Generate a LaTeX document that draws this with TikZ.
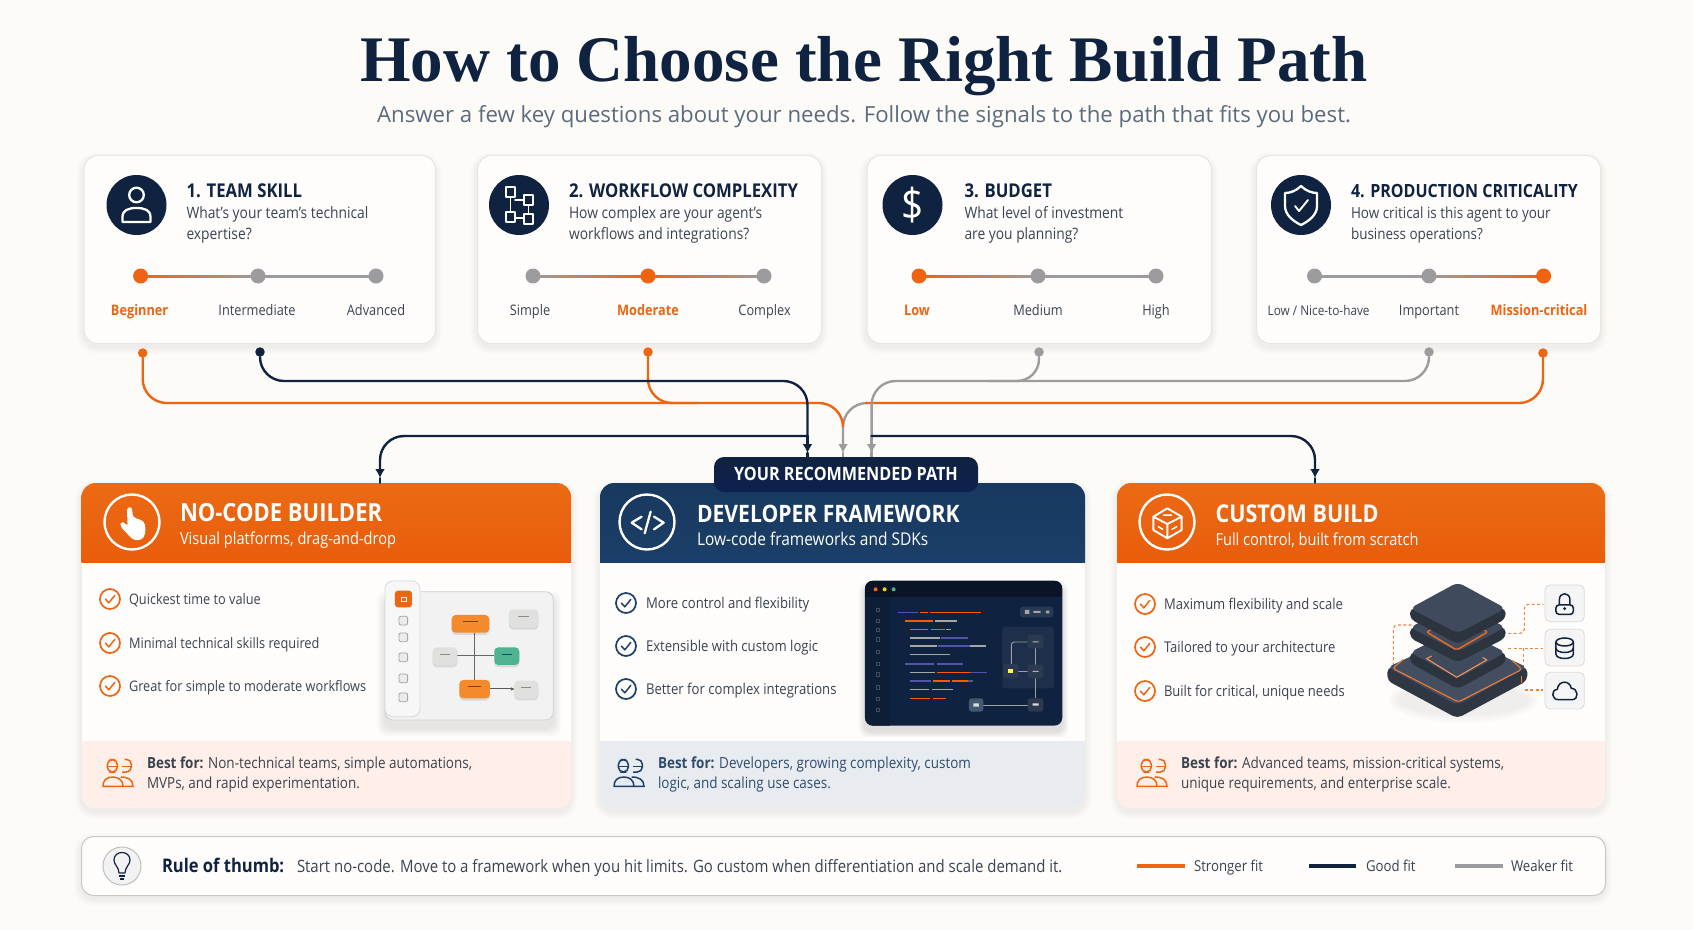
\documentclass[tikz,border=0pt]{standalone}
\usepackage{fontspec}
\setmainfont[FakeStretch=0.88]{Open Sans}
\newfontfamily\plainsans{Open Sans}
\newfontfamily\titlefont{Liberation Serif}
\usetikzlibrary{arrows.meta,calc}
\definecolor{bg}{HTML}{FDFBF8}
\definecolor{navy}{HTML}{0F2340}
\definecolor{hnavy}{HTML}{1B3F69}
\definecolor{orange1}{HTML}{EE6410}
\definecolor{ohead}{HTML}{EC6A14}
\definecolor{ohead2}{HTML}{E85D0C}
\definecolor{greyl}{HTML}{9C9C9E}
\definecolor{bodyt}{HTML}{3A4350}
\definecolor{edge}{HTML}{E9E6E2}
\definecolor{cardw}{HTML}{FFFDFC}
\definecolor{stacka}{HTML}{434F60}
\definecolor{stackb}{HTML}{3F4A5C}
\definecolor{subt}{HTML}{5B6B7D}
\definecolor{mGrey}{HTML}{E0E0DE}
\definecolor{mOr}{HTML}{F58A2C}
\definecolor{mGr}{HTML}{4FB391}
\newcommand\fs[1]{\fontsize{#1}{#1}\selectfont}
\newcommand\softshadow[5]{\foreach \i in {1,...,7}{\fill[black,opacity=0.006,rounded corners=#5+\i]
  (#1-\i,#2-\i+4) rectangle (#3+\i,#4+\i+4);}}
\tikzset{
  txt/.style={inner sep=0pt,outer sep=0pt,anchor=base west},
  ctxt/.style={inner sep=0pt,outer sep=0pt,anchor=base},
  qtitle/.style={txt,text=navy,font=\fs{19}\bfseries},
  qdesc/.style={txt,text=bodyt,font=\fs{15.7}},
  optl/.style={ctxt,text=bodyt,font=\fs{14.5}},
  opton/.style={ctxt,text=orange1,font=\fs{14.5}\bfseries},
  htitle/.style={txt,text=white,font=\fs{24}\bfseries},
  hsub/.style={txt,text=white,font=\fs{16.6}},
  bullet/.style={txt,text=bodyt,font=\fs{14.5}},
  bestf/.style={txt,text=bodyt,font=\fs{15.3}},
  conn/.style={line width=2.4pt,line cap=round},
  dotn/.style={circle,inner sep=0pt,minimum size=9.5pt},
  ico/.style={white,line width=2.3pt,line join=round,line cap=round},
  legendt/.style={txt,text=bodyt,font=\fs{15}},
  hoop/.style={draw=white,line width=2.4pt},
  dash1/.style={orange1!80,line width=1.1pt,dash pattern=on 3pt off 2.4pt,rounded corners=4pt},
}
% question card
\newcommand\qcard[3]{\softshadow{#2}{155}{#3}{343}{14}
  \node[draw=edge,fill=cardw,line width=1pt,rounded corners=14pt,inner sep=0pt,minimum width=#3pt-#2pt,minimum height=188pt,anchor=north west] (#1) at (#2,155) {};}
\newcommand\qhead[6]{% id, icon x, text x, title, l1, l2
  \node[circle,fill=navy,minimum size=60pt,inner sep=0pt] (#1-ic) at (#2,205) {};
  \node[qtitle] (#1-t) at (#3,197) {#4};
  \node[qdesc] (#1-a) at (#3,218) {#5};
  \node[qdesc] (#1-b) at (#3,239.5) {#6};}
\newcommand\sldot[3]{\node[circle,fill=#3,minimum size=15pt,inner sep=0pt] (#1) at (#2,276) {};}
\newcommand\sseg[4]{\shade[left color=#3,right color=#4] (#1,275) rectangle (#2,277);}
\newcommand\chk[3]{\begin{scope}[shift={(#1,#2)}]
  \draw[#3,line width=1.7pt] (0,0) circle (10);
  \draw[#3,line width=1.5pt,line cap=round,line join=round] (-4.5,0.2) -- (-1.2,3.8) -- (4.8,-3.6);
  \end{scope}}
\newcommand\people[3]{\begin{scope}[shift={(#1,#2)},x=0.3333pt,y=-0.3333pt]
  \draw[#3,line width=1.5pt,rounded corners=5pt] (-32,-40) rectangle (-2,-3);
  \draw[#3,line width=1.5pt] (-32,-20) -- (-2,-20) (12,-20) -- (40,-20);
  \draw[#3,line width=1.5pt,rounded corners=5pt] (20,-41) -- (40,-41) -- (40,-3) -- (12,-3);
  \draw[#3,line width=1.5pt,line join=round] (-45,40) -- (15,40) .. controls (15,22) and (2,12) .. (-15,12) .. controls (-35,12) and (-45,22) .. (-45,40) -- cycle;
  \draw[#3,line width=1.5pt] (8,12) .. controls (30,12) and (45,20) .. (45,40) -- (15,40);
  \end{scope}}
\newcommand\mini[6]{\fill[black,opacity=.10,rounded corners=4pt] (#1,#2+5) rectangle (#3,#4+7);
  \fill[#5,rounded corners=4pt] (#1,#2) rectangle (#3,#4);
  \draw[#6,line width=.7pt] ($(#1,#2)!.3!(#3,#2)+(0,20)$) -- ($(#1,#2)!.7!(#3,#2)+(0,20)$);}
\newcommand\codeln[4]{\draw[#4,line width=1.1pt] (#1,#3) -- (#2,#3);}
\newcommand\fnode[5]{\fill[#5,rounded corners=2.5pt] (#1,#2) rectangle (#3,#4);}
\newcommand\slab[7]{% left x, right x, ytop, ymid, ybottom, colour, thickness (zoom coordinates)
  \fill[rounded corners=5pt,fill=#6!70!black] (#1,#4) -- (#1,#4+#7) -- ({(#1+#2)/2},#5+#7) -- (#2,#4+#7) -- (#2,#4) -- cycle;
  \fill[rounded corners=6pt,fill=#6] (#1,#4) -- ({(#1+#2)/2},#3) -- (#2,#4) -- ({(#1+#2)/2},#5) -- cycle;}
\begin{document}
\begin{tikzpicture}[x=1pt,y=-1pt]
\useasboundingbox (0,0) rectangle (1693,929);
\fill[bg] (0,0) rectangle (1693,929);

% title
\node[ctxt,text=navy,font=\titlefont\fs{65}\bfseries] (title) at (864,81) {How to Choose the Right Build Path};
\node[ctxt,text=subt,font=\plainsans\fs{22.2}] (subtitle) at (864,122) {Answer a few key questions about your needs. Follow the signals to the path that fits you best.};

% question cards
\qcard{c1}{83.5}{435}
\qcard{c2}{477}{821}
\qcard{c3}{866.5}{1211}
\qcard{c4}{1256}{1600}
\qhead{c1}{136.5}{186.5}{1. TEAM SKILL}{What's your team's technical}{expertise?}
\qhead{c2}{519}{569}{2. WORKFLOW COMPLEXITY}{How complex are your agent's}{workflows and integrations?}
\qhead{c3}{912.5}{964.5}{3. BUDGET}{What level of investment}{are you planning?}
\qhead{c4}{1301}{1351}{\fs{18.2}4. PRODUCTION CRITICALITY}{\fs{15.3}How critical is this agent to your}{\fs{15.3}business operations?}

% question icons
\begin{scope}[shift={(136.5,205)}]
  \draw[ico] (0,-10) circle (7.3);
  \draw[ico] (-14,17) -- (-14,12) .. controls (-14,5) and (-8,3) .. (0,3) .. controls (8,3) and (14,5) .. (14,12) -- (14,17) -- cycle;
\end{scope}
\begin{scope}[shift={(519,205)}]
  \draw[ico,line width=1.9pt] (-13,-18) rectangle (-4,-8) (5,-10) rectangle (14,0) (-13,7) rectangle (-4,17) (5,9) rectangle (14,19);
  \draw[ico,line width=1.9pt] (-8.5,-8) -- (-8.5,7) (-4,-5) -- (5,-5) (-4,13) -- (5,13) (9.5,0) -- (9.5,9);
\end{scope}
\node[inner sep=0pt,text=white,font=\fs{44}] (c3-dollar) at (912.5,205) {\$};
\begin{scope}[shift={(1301,205)}]
  \draw[ico] (0,-19) .. controls (5,-14) and (11,-12) .. (16,-12) -- (16,1) .. controls (16,10) and (8,16) .. (0,20) .. controls (-8,16) and (-16,10) .. (-16,1) -- (-16,-12) .. controls (-11,-12) and (-5,-14) .. (0,-19) -- cycle;
  \draw[ico,line width=1.9pt] (-6,1) -- (-2,6) -- (7,-5);
\end{scope}

% sliders
\sseg{140.6}{258}{orange1}{greyl}\sseg{258}{376}{greyl}{greyl}
\sseg{533}{648}{greyl}{orange1}\sseg{648}{764}{orange1}{greyl}
\sseg{919}{1038}{orange1}{greyl}\sseg{1038}{1156}{greyl}{greyl}
\sseg{1314.5}{1429}{greyl}{greyl}\sseg{1429}{1543.6}{greyl}{orange1}
\sldot{c1-d1}{140.6}{orange1}\sldot{c1-d2}{258}{greyl}\sldot{c1-d3}{376}{greyl}
\sldot{c2-d1}{533}{greyl}\sldot{c2-d2}{648}{orange1}\sldot{c2-d3}{764}{greyl}
\sldot{c3-d1}{919}{orange1}\sldot{c3-d2}{1038}{greyl}\sldot{c3-d3}{1156}{greyl}
\sldot{c4-d1}{1314.5}{greyl}\sldot{c4-d2}{1429}{greyl}\sldot{c4-d3}{1543.6}{orange1}
\node[opton] (c1-l1) at (139.6,315) {Beginner};
\node[optl] (c1-l2) at (257,315) {Intermediate};
\node[optl] (c1-l3) at (376,315) {Advanced};
\node[optl] (c2-l1) at (530,315) {Simple};
\node[opton] (c2-l2) at (648,315) {Moderate};
\node[optl] (c2-l3) at (764.6,315) {Complex};
\node[opton] (c3-l1) at (917,315) {Low};
\node[optl] (c3-l2) at (1038,315) {Medium};
\node[optl] (c3-l3) at (1156,315) {High};
\node[optl,font=\fs{13.4}] (c4-l1) at (1318.6,315) {Low / Nice-to-have};
\node[optl] (c4-l2) at (1429,315) {Important};
\node[opton] (c4-l3) at (1539,315) {Mission-critical};

% path cards
\softshadow{81.5}{483}{571}{808}{14}
\softshadow{600}{483}{1085}{808}{14}
\softshadow{1117}{483}{1605}{808}{14}
\begin{scope}
  \clip[rounded corners=14pt] (81.5,483) rectangle (571,808);
  \fill[cardw] (81.5,483) rectangle (571,808);
  \shade[top color=ohead,bottom color=ohead2] (81.5,483) rectangle (571,562);
  \fill[orange!60!red!9!white] (81.5,741) rectangle (571,808);
\end{scope}
\begin{scope}
  \clip[rounded corners=14pt] (600,483) rectangle (1085,808);
  \fill[cardw] (600,483) rectangle (1085,808);
  \shade[top color=hnavy!90!black,bottom color=hnavy] (600,483) rectangle (1085,562);
  \fill[hnavy!10!white] (600,741) rectangle (1085,808);
\end{scope}
\begin{scope}
  \clip[rounded corners=14pt] (1117,483) rectangle (1605,808);
  \fill[cardw] (1117,483) rectangle (1605,808);
  \shade[top color=ohead,bottom color=ohead2] (1117,483) rectangle (1605,562);
  \fill[orange!60!red!9!white] (1117,741) rectangle (1605,808);
\end{scope}

% connector anchors
\node[dotn,fill=orange1] (s1) at (142.7,353) {};
\node[dotn,fill=navy] (s2) at (260,352) {};
\node[dotn,fill=orange1] (s3) at (648,352) {};
\node[dotn,fill=greyl] (s4) at (1039,352) {};
\node[dotn,fill=greyl] (s5) at (1429,352) {};
\node[dotn,fill=orange1] (s6) at (1543,353) {};
\coordinate (e-navy) at (807.5,457);
\coordinate (e-mid) at (843,457);
\coordinate (e-grey) at (871.6,457);
\coordinate (h-navy) at (807.5,453);
\coordinate (h-mid) at (843,453);
\coordinate (h-grey) at (871.6,453);
\coordinate (bus1) at (0,381);
\coordinate (bus2) at (0,403);
\coordinate (bus3) at (0,436);
\coordinate (e-left) at (380,483);
\coordinate (h-left) at (380,478);
\coordinate (e-right) at (1315,483);
\coordinate (h-right) at (1315,478);
\coordinate (n-left) at (807.5,436);
\coordinate (n-right) at (871.6,436);
\coordinate (m-left) at (843,421);
\coordinate (g-mid) at (866,403);

% connectors
\draw[conn,greyl,rounded corners=24pt,-{Latex[length=9pt,width=10pt]}] (g-mid) -- (e-mid |- bus2) -- (h-mid);
\draw[conn,greyl] (h-mid) -- (e-mid);
\draw[conn,orange1,rounded corners=24pt] (s1) -- (s1 |- bus2) -- (m-left |- bus2) -- (m-left);
\draw[conn,orange1,rounded corners=24pt] (s3) -- (s3 |- bus2) -- ([xshift=50pt]s3 |- bus2);
\draw[conn,orange1,rounded corners=24pt] (s6) -- (s6 |- bus2) -- (g-mid);
\draw[conn,greyl,rounded corners=24pt] (s5) -- (s5 |- bus1) -- (e-grey |- bus1) -- (h-grey);
\draw[conn,greyl,rounded corners=22pt] (s4) -- (s4 |- bus1) -- ([xshift=-50pt]s4 |- bus1);
\draw[conn,greyl,-{Latex[length=9pt,width=10pt]}] (n-right) -- (h-grey);
\draw[conn,greyl] (h-grey) -- (e-grey);
\draw[conn,navy,rounded corners=24pt] (s2) -- (s2 |- bus1) -- (e-navy |- bus1) -- (n-left);
\draw[conn,navy,-{Latex[length=9pt,width=10pt]}] (n-left) -- (h-navy);
\draw[conn,navy] (h-navy) -- (e-navy);
\draw[conn,navy,rounded corners=24pt,-{Latex[length=9pt,width=10pt]}] (n-left) -- (e-left |- bus3) -- (h-left);
\draw[conn,navy,line width=1.6pt] (h-left) -- (e-left);
\draw[conn,navy,rounded corners=24pt,-{Latex[length=9pt,width=10pt]}] (n-right) -- (e-right |- bus3) -- (h-right);
\draw[conn,navy,line width=1.6pt] (h-right) -- (e-right);

% badge
\shade[top color=navy,bottom color=navy!92!blue,rounded corners=10pt] (714,457) rectangle (978,492);
\node[ctxt,text=white,font=\fs{18.4}\bfseries] (badge) at (846,480.5) {YOUR RECOMMENDED PATH};

% path-card headers
\node[circle,hoop,minimum size=55pt,inner sep=0pt] (p1-ic) at (132,522) {};
\node[circle,hoop,minimum size=55pt,inner sep=0pt] (p2-ic) at (647,522) {};
\node[circle,hoop,minimum size=55pt,inner sep=0pt] (p3-ic) at (1167,522) {};
\node[htitle,font=\fs{25}\bfseries] (p1-t) at (180,521) {NO-CODE BUILDER};
\node[hsub] (p1-s) at (180,544.5) {Visual platforms, drag-and-drop};
\node[htitle] (p2-t) at (697,522) {DEVELOPER FRAMEWORK};
\node[hsub,font=\fs{17.6}] (p2-s) at (697,545) {Low-code frameworks and SDKs};
\node[htitle,font=\fs{24.5}\bfseries] (p3-t) at (1215.5,522) {CUSTOM BUILD};
\node[hsub] (p3-s) at (1215.5,545) {Full control, built from scratch};

% hand icon
\begin{scope}[shift={(70,470)},x=0.3333pt,y=-0.3333pt]
  \fill[white,rounded corners=3pt] (171,122) -- (172,114) -- (182,111) -- (187,118) -- (189,143) -- (201,145) -- (212,150) -- (222,155) -- (227,172) -- (224,198) -- (214,210) -- (190,210) -- (178,198) -- (150,168) -- (153,155) -- (165,158) -- (173,170) -- cycle;
\end{scope}
% code icon
\begin{scope}[shift={(590,470)},x=0.3333pt,y=-0.3333pt]
  \draw[ico] (155,140) -- (125,158) -- (155,178) (192,140) -- (221,158) -- (192,178) (182,125) -- (164,190);
\end{scope}
% cube icon
\begin{scope}[shift={(1110,470)},x=0.3333pt,y=-0.3333pt]
  \draw[ico,line width=1.9pt] (172,115) -- (215,140) -- (215,180) -- (172,205) -- (130,180) -- (130,140) -- cycle (130,140) -- (172,162) -- (215,140) (172,162) -- (172,205);
  \draw[ico,line width=1.5pt] (145,170) -- (158,178) (186,178) -- (200,170) (160,135) -- (185,135);
\end{scope}

% bullets
\chk{110}{599}{orange1}\chk{110}{643}{orange1}\chk{110}{686}{orange1}
\node[bullet] (p1-b1) at (129,604) {Quickest time to value};
\node[bullet] (p1-b2) at (129,648) {Minimal technical skills required};
\node[bullet] (p1-b3) at (129,691) {Great for simple to moderate workflows};
\chk{626}{603}{hnavy}\chk{626}{646}{hnavy}\chk{626}{689}{hnavy}
\node[bullet,font=\fs{14.9}] (p2-b1) at (646,608) {More control and flexibility};
\node[bullet,font=\fs{14.9}] (p2-b2) at (646,651) {Extensible with custom logic};
\node[bullet,font=\fs{14.9}] (p2-b3) at (646,694) {Better for complex integrations};
\chk{1145}{604}{orange1}\chk{1145}{647}{orange1}\chk{1145}{691}{orange1}
\node[bullet,font=\fs{14.8}] (p3-b1) at (1164,609) {Maximum flexibility and scale};
\node[bullet,font=\fs{14.8}] (p3-b2) at (1164,652) {Tailored to your architecture};
\node[bullet,font=\fs{14.8}] (p3-b3) at (1164,696) {Built for critical, unique needs};

% best-for bands
\people{118}{773}{orange1}\people{629}{773}{hnavy}\people{1152}{773}{orange1}
\node[bestf] (p1-f1) at (147,768) {\textbf{Best for:} Non-technical teams, simple automations,};
\node[bestf] (p1-f2) at (147,788) {MVPs, and rapid experimentation.};
\node[bestf,text=hnavy!80!gray] (p2-f1) at (658,768) {\textbf{Best for:} Developers, growing complexity, custom};
\node[bestf,text=hnavy!80!gray] (p2-f2) at (658,788) {logic, and scaling use cases.};
\node[bestf] (p3-f1) at (1181,768) {\textbf{Best for:} Advanced teams, mission-critical systems,};
\node[bestf] (p3-f2) at (1181,788) {unique requirements, and enterprise scale.};

% no-code mock
\begin{scope}[shift={(70,470)},x=0.3333pt,y=-0.3333pt]
  \foreach \i in {1,...,6}{\fill[black,opacity=.014,rounded corners=9pt] (945-4*\i,365-4*\i+24) rectangle (1450+4*\i,750+4*\i+24);}
  \fill[black!5,draw=black!18,line width=.8pt,rounded corners=8pt] (945,365) rectangle (1450,750);
  \fill[black!3,draw=black!15,line width=.8pt,rounded corners=8pt] (945,333) rectangle (1050,740);
  \fill[orange1,rounded corners=3pt] (975,362) rectangle (1026,412);
  \draw[white,line width=.8pt] (995,382) rectangle (1008,393);
  \foreach \yy in {452,502,562,625,682}{\draw[black!35,fill=black!8,line width=.8pt,rounded corners=2pt] (987,\yy-13) rectangle (1013,\yy+13);}
  \draw[black!60,line width=1pt] (1215,488) -- (1215,630) (1162,558) -- (1273,558);
  \draw[black!65,line width=1pt,-{Latex[length=4pt,width=3.5pt]}] (1260,657) -- (1335,657);
  \mini{1145}{435}{1258}{488}{mOr}{orange!50!black}
  \mini{1317}{418}{1405}{472}{mGrey}{black!45}
  \mini{1088}{532}{1162}{585}{mGrey}{black!45}
  \mini{1273}{532}{1348}{585}{mGr}{teal!70!black}
  \mini{1168}{630}{1260}{685}{mOr}{orange!50!black}
  \mini{1333}{632}{1405}{684}{mGrey}{black!45}
\end{scope}

% code-editor mock
\begin{scope}[shift={(590,470)},x=0.3333pt,y=-0.3333pt]
  \foreach \i in {1,...,6}{\fill[black,opacity=.018,rounded corners=9pt] (825-3*\i,332-3*\i+18) rectangle (1417+3*\i,767+3*\i+18);}
  \fill[navy,rounded corners=8pt] (825,332) rectangle (1417,767);
  \begin{scope}
    \clip[rounded corners=8pt] (825,332) rectangle (1417,767);
    \fill[black!40!navy] (825,332) rectangle (1417,382);
    \fill[navy!85!black] (825,382) rectangle (900,767);
  \end{scope}
  \fill[orange1] (857,358) circle (6);
  \fill[yellow!70!orange] (884,358) circle (6);
  \fill[mGr] (911,358) circle (6);
  \foreach \yy in {420,452,480,508,545,581,613,652,686,719}{\draw[gray!45!navy,line width=.7pt] (860,\yy-5) rectangle (869,\yy+5);}
  \def\cO{orange!70!red}\def\cB{blue!35!gray}\def\cG{gray!70!white}
  \codeln{925}{985}{428}{\cB}\codeln{990}{1015}{428}{\cO}\codeln{1020}{1172}{428}{\cO}
  \codeln{945}{1030}{453}{\cO}\codeln{1035}{1100}{453}{\cG}
  \codeln{960}{1015}{479}{\cO}\codeln{1022}{1065}{479}{\cO}\codeln{1068}{1082}{479}{\cG}
  \codeln{960}{1050}{504}{\cG}\codeln{1052}{1135}{504}{\cB}
  \codeln{960}{1040}{528}{\cG}\codeln{1045}{1140}{528}{\cB}\codeln{1140}{1188}{528}{\cG}
  \codeln{960}{1080}{554}{\cG}
  \codeln{945}{1032}{582}{\cB}\codeln{1040}{1118}{582}{\cB}
  \codeln{960}{1035}{607}{\cG}\codeln{1040}{1140}{607}{\cO}\codeln{1140}{1190}{607}{\cB}
  \codeln{960}{1022}{633}{\cB}\codeln{1028}{1080}{633}{\cO}\codeln{1085}{1135}{633}{\cO}\codeln{1135}{1150}{633}{\cB}
  \codeln{960}{1018}{659}{\cG}\codeln{1025}{1090}{659}{\cG}
  \codeln{960}{1020}{685}{\cO}\codeln{1030}{1068}{685}{\cO}
  \fill[white,opacity=.06,rounded corners=3pt] (1237,470) rectangle (1392,655);
  \fill[white,opacity=.10,rounded corners=3pt] (1290,410) rectangle (1390,442);
  \fill[gray!70] (1305,420) rectangle (1318,432) (1330,423) rectangle (1352,429) (1368,422) rectangle (1378,430);
  \draw[gray!75!white,line width=.9pt,rounded corners=3pt] (1313,516) -- (1264,516) -- (1264,582);
  \draw[gray!75!white,line width=.9pt] (1337,535) -- (1337,584) (1285,604) -- (1313,604) (1337,625) -- (1337,685) (1180,705) -- (1313,705);
  \fnode{1313}{495}{1360}{535}{navy!75!gray}
  \fnode{1240}{582}{1285}{625}{navy!75!gray}
  \fnode{1313}{584}{1360}{625}{navy!75!gray}
  \fnode{1137}{685}{1180}{725}{hnavy!60!gray}
  \fnode{1313}{685}{1360}{725}{navy!75!gray}
  \fill[yellow!70!white] (1253,596) rectangle (1270,610);
  \fill[gray!60] (1328,514) rectangle (1346,517) (1328,603) rectangle (1346,606);
  \fill[black!15] (1150,700) rectangle (1167,710) (1328,700) rectangle (1346,707);
\end{scope}

% stack illustration
\begin{scope}[shift={(1110,470)},x=0.3333pt,y=-0.3333pt]
  \foreach \i in {1,...,5}{\fill[black,opacity=.010] (1060,690) ellipse ({190+7*\i} and {40+6*\i});}
  \draw[dash1] (905,465) -- (850,465) -- (850,600);
  \draw[dash1] (1195,490) -- (1243,490) -- (1243,403) -- (1300,403);
  \draw[dash1] (1195,535) -- (1300,535);
  \draw[dash1] (1240,535) -- (1240,600);
  \draw[dash1] (1245,660) -- (1300,660);
  \slab{832}{1252}{495}{592}{705}{stacka}{40}
  \draw[orange1!85,line width=1.1pt,rounded corners=3pt] (880,568) -- (848,595) -- (1045,696) -- (1236,598) -- (1205,570);
  \draw[orange1!85,line width=1.1pt] (1235,617) -- (1235,640);
  \slab{900}{1187}{475}{547}{625}{stackb}{32}
  \draw[orange1!70,line width=1.1pt] (965,558) -- (950,566) -- (1040,622) -- (1130,570) -- (1118,562);
  \slab{900}{1187}{400}{472}{545}{stackb}{32}
  \draw[orange1!95,line width=1.4pt,rounded corners=2pt] (965,478) -- (950,486) -- (1040,540) -- (1133,486) -- (1120,478);
  \slab{900}{1187}{337}{415}{490}{stackb}{32}
  \foreach \yy in {345,478,607}{\fill[black!4,draw=black!14,line width=.8pt,rounded corners=5pt] (1305,\yy) rectangle (1423,\yy+110);}
  % lock
  \draw[navy,line width=1.5pt,rounded corners=3pt] (1338,405) rectangle (1390,433);
  \draw[navy,line width=1.5pt] (1348,405) -- (1348,390) .. controls (1348,365) and (1380,365) .. (1380,390) -- (1380,405);
  \fill[navy] (1364,416) circle (5);
  % database
  \draw[navy,line width=1.5pt] (1364,516) ellipse (26 and 12);
  \draw[navy,line width=1.5pt] (1338,516) -- (1338,552) .. controls (1338,570) and (1390,570) .. (1390,552) -- (1390,516);
  \draw[navy,line width=1.5pt] (1338,534) .. controls (1338,552) and (1390,552) .. (1390,534);
  % cloud
  \draw[navy,line width=1.5pt,line join=round] (1345,689) .. controls (1325,689) and (1322,660) .. (1342,658) .. controls (1345,630) and (1380,630) .. (1384,655) .. controls (1405,655) and (1408,689) .. (1386,689) -- cycle;
\end{scope}

% rule bar
\softshadow{81}{836}{1605}{895}{12}
\node[draw=black!22,fill=cardw,line width=1pt,rounded corners=12pt,inner sep=0pt,minimum width=1524pt,minimum height=59pt,anchor=north west] (rule) at (81,836) {};
\node[circle,fill=black!5,draw=black!25,line width=1pt,minimum size=38pt,inner sep=0pt] (bulb) at (122,866) {};
\begin{scope}[shift={(122,866)}]
  \draw[navy,line width=1.2pt,line join=round] (-3,7) .. controls (-3,1) and (-8,-1) .. (-8,-6) .. controls (-8,-16) and (8,-16) .. (8,-6) .. controls (8,-1) and (3,1) .. (3,7) -- cycle;
  \draw[navy,line width=1.2pt] (-3,10) -- (3,10) (-2,13) -- (2,13);
\end{scope}
\node[txt,text=navy,font=\fs{18.8}\bfseries] (rule-h) at (162,872) {Rule of thumb:};
\node[txt,text=bodyt,font=\fs{17}] (rule-t) at (297,872) {Start no-code. Move to a framework when you hit limits. Go custom when differentiation and scale demand it.};
\coordinate (lg1a) at (1137,866);\coordinate (lg1b) at (1185,866);
\coordinate (lg2a) at (1309,866);\coordinate (lg2b) at (1356,866);
\coordinate (lg3a) at (1455,866);\coordinate (lg3b) at (1503,866);
\draw[orange1,line width=3.6pt] (lg1a) -- (lg1b);
\draw[navy,line width=3.6pt] (lg2a) -- (lg2b);
\draw[greyl,line width=3.6pt] (lg3a) -- (lg3b);
\node[legendt] (lg1) at (1194,871) {Stronger fit};
\node[legendt] (lg2) at (1366,871) {Good fit};
\node[legendt] (lg3) at (1511,871) {Weaker fit};
\end{tikzpicture}
\end{document}
